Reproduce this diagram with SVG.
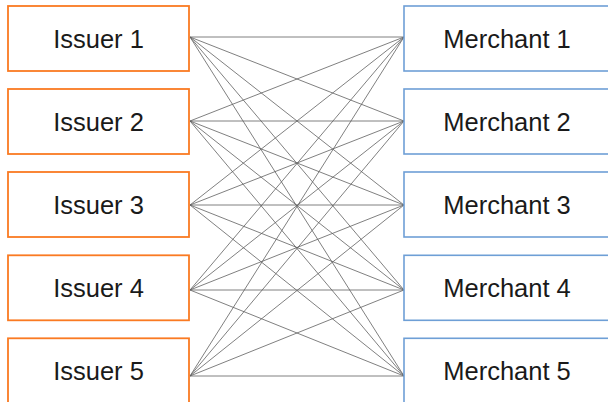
<svg xmlns="http://www.w3.org/2000/svg" width="608" height="402" viewBox="0 0 608 402">
  <style>
    .issuer rect { fill: #ffffff; stroke: #FA7A22; stroke-width: 1.8; }
    .merchant rect { fill: #ffffff; stroke: #6E9FD6; stroke-width: 1.6; }
    text { font-family: "Liberation Sans", Arial, sans-serif; font-size: 25.5px; fill: #1a1a1a; text-anchor: middle; }
    #links line { stroke: #5f5f5f; stroke-width: 0.8; }
  </style>
  <rect width="608" height="402" fill="#ffffff"/>

  <!-- every issuer is linked to every merchant -->
  <g id="links">
    <line x1="190" y1="37" x2="404" y2="37"/>
    <line x1="190" y1="37" x2="404" y2="121"/>
    <line x1="190" y1="37" x2="404" y2="205"/>
    <line x1="190" y1="37" x2="404" y2="290"/>
    <line x1="190" y1="37" x2="404" y2="376"/>
    <line x1="190" y1="121" x2="404" y2="37"/>
    <line x1="190" y1="121" x2="404" y2="121"/>
    <line x1="190" y1="121" x2="404" y2="205"/>
    <line x1="190" y1="121" x2="404" y2="290"/>
    <line x1="190" y1="121" x2="404" y2="376"/>
    <line x1="190" y1="205" x2="404" y2="37"/>
    <line x1="190" y1="205" x2="404" y2="121"/>
    <line x1="190" y1="205" x2="404" y2="205"/>
    <line x1="190" y1="205" x2="404" y2="290"/>
    <line x1="190" y1="205" x2="404" y2="376"/>
    <line x1="190" y1="290" x2="404" y2="37"/>
    <line x1="190" y1="290" x2="404" y2="121"/>
    <line x1="190" y1="290" x2="404" y2="205"/>
    <line x1="190" y1="290" x2="404" y2="290"/>
    <line x1="190" y1="290" x2="404" y2="376"/>
    <line x1="190" y1="376" x2="404" y2="37"/>
    <line x1="190" y1="376" x2="404" y2="121"/>
    <line x1="190" y1="376" x2="404" y2="205"/>
    <line x1="190" y1="376" x2="404" y2="290"/>
    <line x1="190" y1="376" x2="404" y2="376"/>
  </g>

  <g id="issuer1" class="issuer"><rect x="8" y="6" width="181" height="65"/><text x="98.5" y="48">Issuer 1</text></g>
  <g id="issuer2" class="issuer"><rect x="8" y="89" width="181" height="65"/><text x="98.5" y="131">Issuer 2</text></g>
  <g id="issuer3" class="issuer"><rect x="8" y="172" width="181" height="65"/><text x="98.5" y="214">Issuer 3</text></g>
  <g id="issuer4" class="issuer"><rect x="8" y="255.3" width="181" height="65"/><text x="98.5" y="297.3">Issuer 4</text></g>
  <g id="issuer5" class="issuer"><rect x="8" y="338.3" width="181" height="65"/><text x="98.5" y="380.3">Issuer 5</text></g>

  <g id="merchant1" class="merchant"><rect x="404" y="6" width="208" height="65"/><text x="507" y="48">Merchant 1</text></g>
  <g id="merchant2" class="merchant"><rect x="404" y="89" width="208" height="65"/><text x="507" y="131">Merchant 2</text></g>
  <g id="merchant3" class="merchant"><rect x="404" y="172" width="208" height="65"/><text x="507" y="214">Merchant 3</text></g>
  <g id="merchant4" class="merchant"><rect x="404" y="255.3" width="208" height="65"/><text x="507" y="297.3">Merchant 4</text></g>
  <g id="merchant5" class="merchant"><rect x="404" y="338.3" width="208" height="65"/><text x="507" y="380.3">Merchant 5</text></g>
</svg>
